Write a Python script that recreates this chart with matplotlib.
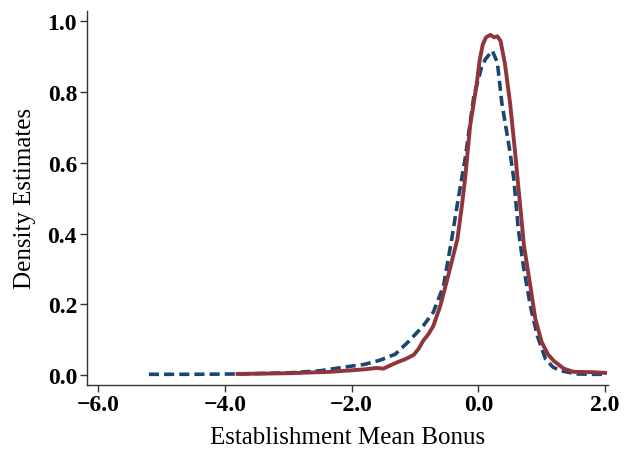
# Kernel density estimates of establishment mean bonus

import numpy as np
import matplotlib
matplotlib.use("Agg")
import matplotlib.pyplot as plt

# dashed navy curve
blue_x = [-5.2, -4.5, -3.8, -3.0, -2.5, -2.13, -1.8, -1.55, -1.31, -1.1, -0.87,
          -0.71, -0.55, -0.42, -0.31, -0.21, -0.07, 0.05, 0.11, 0.22, 0.3, 0.37,
          0.44, 0.5, 0.56, 0.63, 0.71, 0.82, 0.93, 1.06, 1.18, 1.3, 1.56, 1.8, 2.0]
blue_y = [0.002, 0.002, 0.003, 0.006, 0.012, 0.022, 0.03, 0.042, 0.059, 0.095, 0.139,
          0.178, 0.252, 0.385, 0.507, 0.61, 0.79, 0.87, 0.893, 0.917, 0.884, 0.77,
          0.695, 0.63, 0.554, 0.413, 0.309, 0.196, 0.111, 0.045, 0.022, 0.012, 0.003, 0.002, 0.002]

# solid red curve
red_x = [-3.8, -3.0, -2.34, -1.8, -1.6, -1.5, -1.38, -1.28, -1.15, -1.02, -0.94, -0.87,
         -0.79, -0.71, -0.6, -0.49, -0.33, -0.26, -0.21, -0.13, -0.03, 0.02, 0.07, 0.12,
         0.19, 0.25, 0.3, 0.35, 0.42, 0.5, 0.58, 0.63, 0.72, 0.82, 0.9, 1.0, 1.1, 1.19,
         1.35, 1.5, 1.8, 2.0]
red_y = [0.003, 0.005, 0.009, 0.016, 0.02, 0.018, 0.028, 0.036, 0.045, 0.057, 0.075, 0.097,
         0.115, 0.139, 0.196, 0.271, 0.385, 0.479, 0.554, 0.705, 0.818, 0.89, 0.935, 0.955,
         0.962, 0.955, 0.958, 0.945, 0.88, 0.77, 0.63, 0.534, 0.366, 0.252, 0.158, 0.093,
         0.058, 0.04, 0.018, 0.009, 0.008, 0.006]

x_ticks = [-6.0, -4.0, -2.0, 0.0, 2.0]
y_ticks = [0.0, 0.2, 0.4, 0.6, 0.8, 1.0]

plt.rcParams['font.family'] = ['Liberation Serif', 'DejaVu Serif']

fig = plt.figure(figsize=(6.29, 4.52), dpi=100)
ax = fig.add_axes([0.138, 0.147, 0.829, 0.826])

ax.plot(blue_x, blue_y, color="#1a476f", linewidth=2.6, linestyle=(0, (2.8, 1.4)))
ax.plot(red_x, red_y, color="#90353b", linewidth=2.8)

ax.set_xlim(-6.18, 2.05)
ax.set_ylim(-0.027, 1.029)
ax.set_xticks(x_ticks)
ax.set_xticklabels(["%.1f" % v if v >= 0 else "\u2212%.1f" % -v for v in x_ticks])
ax.set_yticks(y_ticks)
ax.set_yticklabels(["%.1f" % v for v in y_ticks])
for lab in ax.get_xticklabels() + ax.get_yticklabels():
    lab.set_fontweight('bold')

ax.spines['top'].set_visible(False)
ax.spines['right'].set_visible(False)
for s in ['left', 'bottom']:
    ax.spines[s].set_color("#333333")
    ax.spines[s].set_linewidth(1.0)
ax.tick_params(direction='out', length=5, width=1.0, color="#333333",
               labelsize=17, pad=2)

ax.set_xlabel('Establishment Mean Bonus', fontsize=18, labelpad=8)
ax.set_ylabel('Density Estimates', fontsize=18, labelpad=8)

fig.savefig('out.png', dpi=100)
